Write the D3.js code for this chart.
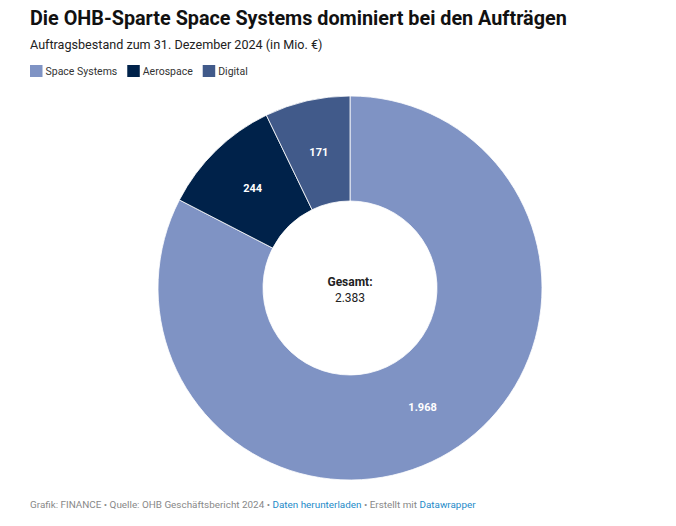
<!DOCTYPE html>
<html>
<head>
<meta charset="utf-8">
<script src="https://cdn.jsdelivr.net/npm/d3@7"></script>
<style>
  body { margin: 0; background: #fff; font-family: Roboto, sans-serif; }
  svg { display: block; }
</style>
</head>
<body>
<svg id="chart" width="676" height="526"></svg>
<script>
"use strict"

var categories = ['Space Systems', 'Aerospace', 'Digital'];
var values = [1968, 244, 171];
var colors = ['#7f93c4', '#00224a', '#415a8a'];
var labels = ['1.968', '244', '171'];
var totalLabel = 'Gesamt:';
var totalValue = '2.383';

var svg = d3.select('#chart');

svg.append('text')
  .attr('x', 30).attr('y', 25)
  .attr('font-size', 19.8).attr('font-weight', 700).attr('fill', '#111')
  .text('Die OHB-Sparte Space Systems dominiert bei den Aufträgen');

svg.append('text')
  .attr('x', 30).attr('y', 49)
  .attr('font-size', 12.6).attr('fill', '#222')
  .text('Auftragsbestand zum 31. Dezember 2024 (in Mio. €)');

// legend
var legend = svg.append('g').attr('transform', 'translate(30,65)');
var lx = 0;
categories.forEach(function(c, i) {
  var g = legend.append('g').attr('transform', 'translate(' + lx + ',0)');
  g.append('rect').attr('width', 12.5).attr('height', 12).attr('fill', colors[i]);
  var t = g.append('text')
    .attr('x', 15.5).attr('y', 10)
    .attr('font-size', 10.5).attr('fill', '#333')
    .text(c);
  lx += 15.5 + t.node().getComputedTextLength() + 10;
});

// donut
var cx = 350, cy = 288, outerR = 192, innerR = 87;

var pie = d3.pie().sort(null).value(function(d) { return d; });
var arc = d3.arc().innerRadius(innerR).outerRadius(outerR);
var labelArc = d3.arc().innerRadius((innerR + outerR) / 2).outerRadius((innerR + outerR) / 2);

var g = svg.append('g').attr('transform', 'translate(' + cx + ',' + cy + ')');

var arcs = pie(values);

g.selectAll('path.slice')
    .data(arcs)
  .enter().append('path')
    .attr('class', 'slice')
    .attr('d', arc)
    .attr('fill', function(d, i) { return colors[i]; })
    .attr('stroke', '#fff')
    .attr('stroke-width', 0.8);

g.selectAll('text.value')
    .data(arcs)
  .enter().append('text')
    .attr('class', 'value')
    .attr('transform', function(d) { return 'translate(' + labelArc.centroid(d) + ')'; })
    .attr('text-anchor', 'middle')
    .attr('dy', '0.35em')
    .attr('font-size', 11).attr('font-weight', 700).attr('fill', '#fff')
    .text(function(d, i) { return labels[i]; });

g.append('text')
  .attr('text-anchor', 'middle').attr('y', -2)
  .attr('font-size', 12).attr('font-weight', 700).attr('fill', '#222')
  .text(totalLabel);

g.append('text')
  .attr('text-anchor', 'middle').attr('y', 14)
  .attr('font-size', 12).attr('fill', '#222')
  .text(totalValue);

// footer
var foot = svg.append('text')
  .attr('x', 30).attr('y', 508)
  .attr('font-size', 9.9).attr('fill', '#888');
foot.append('tspan').text('Grafik: FINANCE • Quelle: OHB Geschäftsbericht 2024 • ');
foot.append('tspan').attr('fill', '#1d8ac8').text('Daten herunterladen');
foot.append('tspan').text(' • Erstellt mit ');
foot.append('tspan').attr('fill', '#1d8ac8').text('Datawrapper');
</script>
</body>
</html>
